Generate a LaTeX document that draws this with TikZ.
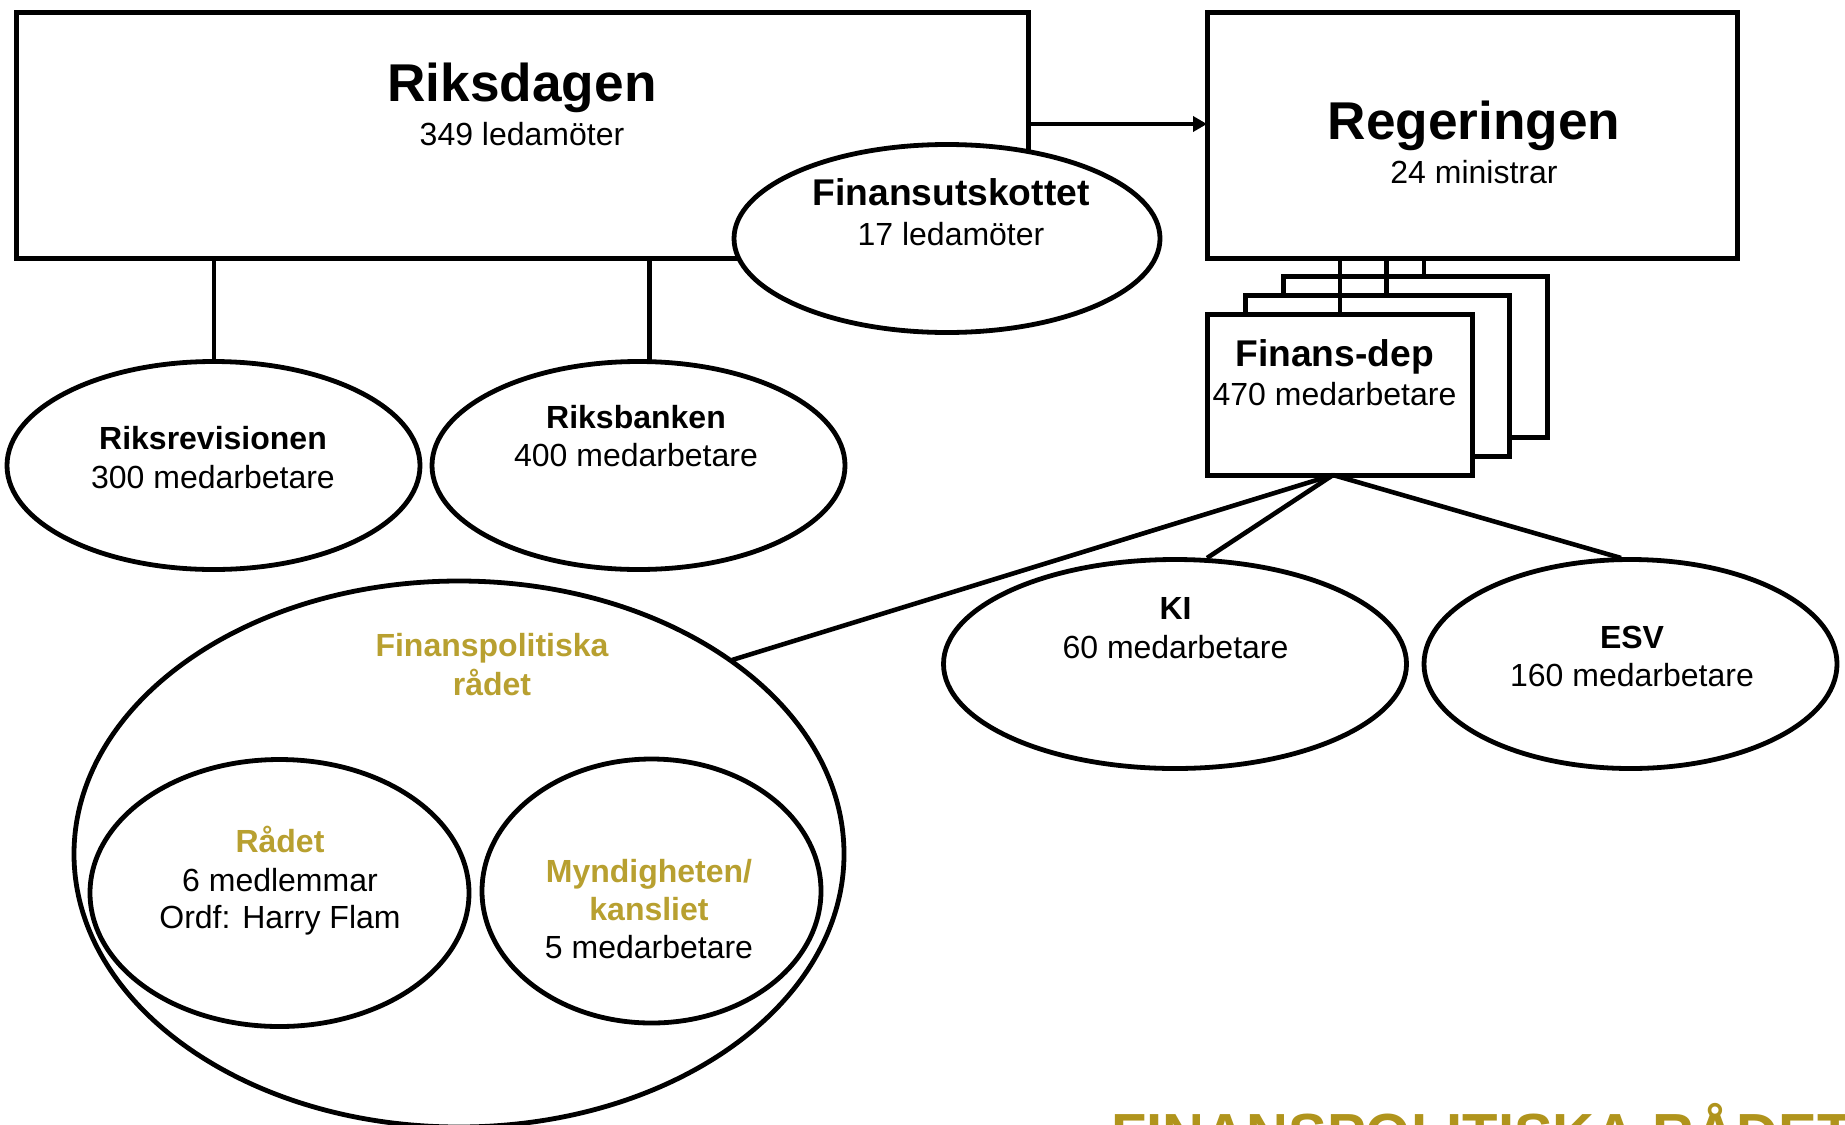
\documentclass[tikz,border=0pt]{standalone}
\usepackage{fontspec}
\setmainfont{Liberation Sans}
\usetikzlibrary{shapes.geometric,arrows.meta}
\definecolor{labelgold}{HTML}{B8A030}
\definecolor{titlegold}{HTML}{B0941C}
\tikzset{
  x=0.5pt,y=-0.5pt,
  line/.style={draw=black,line width=2.3pt},
  boxshape/.style={rectangle,draw=black,line width=2.5pt,fill=white,inner sep=0pt},
  oval/.style={ellipse,draw=black,line width=2.4pt,fill=white,inner sep=0pt},
  big/.style={anchor=base,inner sep=0pt,font=\fontsize{26.6pt}{30pt}\selectfont\bfseries},
  mid/.style={anchor=base,inner sep=0pt,font=\fontsize{18.6pt}{22pt}\selectfont\bfseries},
  head/.style={anchor=base,inner sep=0pt,font=\fontsize{16pt}{19pt}\selectfont\bfseries},
  body/.style={anchor=base,inner sep=0pt,font=\fontsize{16pt}{19pt}\selectfont},
  goldhead/.style={head,text=labelgold},
}
\newcommand{\boxat}[5]{\node[boxshape,minimum width=#3*0.5pt,minimum height=#4*0.5pt] (#5) at (#1,#2) {};}
\newcommand{\ovalat}[5]{\node[oval,minimum width=#3*0.5pt,minimum height=#4*0.5pt] (#5) at (#1,#2) {};}
\begin{document}
\begin{tikzpicture}
\clip (0,0) rectangle (1845,1124);
\fill[white] (0,0) rectangle (1845,1124);
% boxes
\boxat{522}{135}{1012}{246}{riksdagen}
\boxat{1472}{135}{530}{246}{regeringen}
\boxat{1415}{356.75}{264}{161.5}{backbox}
\boxat{1377}{375.5}{264}{161}{midbox}
\boxat{1339.75}{394.5}{264.5}{161}{frontbox}
% named connector ends
\coordinate (arrowA) at (1028,124);
\coordinate (arrowB) at (1207,124);
\coordinate (rrBase) at (214,258);
\coordinate (rrTop) at (214,362);
\coordinate (rbTop) at (649.5,362);
\coordinate (rbBase) at (649.5,258);
\coordinate (rgA) at (1340,258);
\coordinate (rgB) at (1386.5,258);
\coordinate (rgC) at (1424,258);
\coordinate (fdA) at (1340,314);
\coordinate (fdB) at (1386.5,295);
\coordinate (fdC) at (1424,276);
\coordinate (hub) at (1333,475);
\coordinate (kiTop) at (1207,558);
\coordinate (esvTop) at (1621,558);
\coordinate (fprEdge) at (732,660);
% connectors
\draw[-{Triangle[length=7pt,width=7.5pt]},line width=2.2pt] (arrowA) -- (arrowB);
\draw[line] (rrBase) -- (rrTop);
\draw[line] (rbBase) -- (rbTop);
\draw[line] (rgA) -- (fdA);
\draw[line] (rgB) -- (fdB);
\draw[line] (rgC) -- (fdC);
\draw[line] (hub) -- (fprEdge);
\draw[line] (hub) -- (kiTop);
\draw[line] (hub) -- (esvTop);
% ovals
\ovalat{947}{238.5}{426}{188}{finansutskottet}
\ovalat{213.5}{465.5}{413}{208}{riksrevisionen}
\ovalat{638.5}{465.5}{413}{208}{riksbanken}
\ovalat{1175}{664}{463}{209}{ki}
\ovalat{1630.5}{664}{413}{209}{esv}
\ovalat{459}{854}{770}{546}{fpr}
\ovalat{279.5}{893}{379}{267}{radet}
\ovalat{651.5}{891}{339}{264}{myndigheten}
% texts
\node[big] (t1) at (522,101.5) {Riksdagen};
\node[body] (t2) at (522,145) {349 ledamöter};
\node[big] (t3) at (1474,139) {Regeringen};
\node[body] (t4) at (1474,183.5) {24 ministrar};
\node[mid] (t5) at (951,205) {Finansutskottet};
\node[body] (t6) at (951,245) {17 ledamöter};
\node[head] (t7) at (213,449.5) {Riksrevisionen};
\node[body] (t8) at (213,488) {300 medarbetare};
\node[head] (t9) at (636,428) {Riksbanken};
\node[body] (t10) at (636,466) {400 medarbetare};
\node[mid] (t11) at (1334.5,366) {Finans-dep};
\node[body] (t12) at (1334.5,405) {470 medarbetare};
\node[head] (t13) at (1175.5,619) {KI};
\node[body] (t14) at (1175.5,658) {60 medarbetare};
\node[head] (t15) at (1632,648) {ESV};
\node[body] (t16) at (1632,686) {160 medarbetare};
\node[goldhead] (t17) at (492,656.5) {Finanspolitiska};
\node[goldhead] (t18) at (492,695) {rådet};
\node[goldhead] (t19) at (280,852) {Rådet};
\node[body] (t20) at (280,891) {6 medlemmar};
\node[body] (t21) at (280,928.5) {Ordf: Harry Flam};
\node[goldhead] (t22) at (649,882.5) {Myndigheten/};
\node[goldhead] (t23) at (649,920) {kansliet};
\node[body] (t24) at (649,958) {5 medarbetare};
\node[anchor=base west,inner sep=0pt,text=titlegold,font=\fontsize{29pt}{33pt}\selectfont\bfseries] (footer) at (1111,1154) {FINANSPOLITISKA RÅDET};
\end{tikzpicture}
\end{document}
